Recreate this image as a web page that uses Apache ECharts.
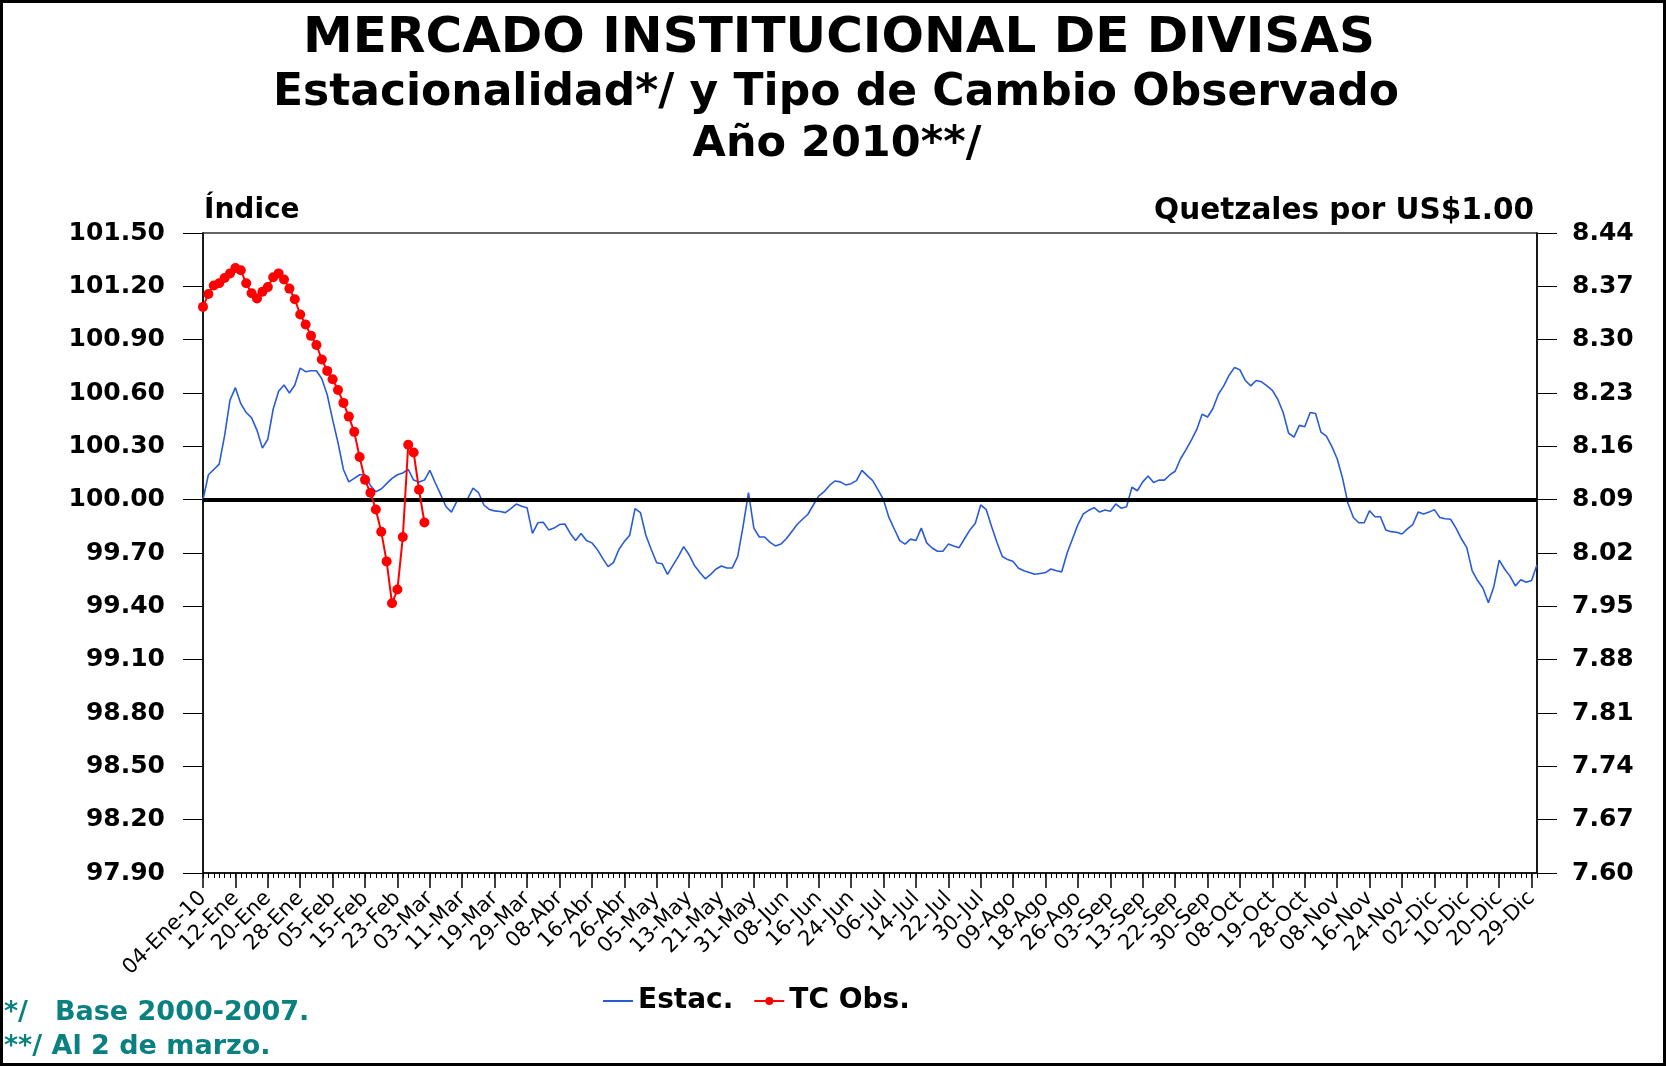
<!DOCTYPE html>
<html>
<head>
<meta charset="utf-8">
<script src="https://cdn.jsdelivr.net/npm/echarts@6/dist/echarts.min.js"></script>
<style>
html, body { margin: 0; padding: 0; background: #fff; }
#chart { width: 1666px; height: 1066px; }
</style>
</head>
<body>
<div id="chart"></div>
<script>
// días hábiles 2010 (se excluyen fines de semana y feriados)
const meses = ['Ene', 'Feb', 'Mar', 'Abr', 'May', 'Jun', 'Jul', 'Ago', 'Sep', 'Oct', 'Nov', 'Dic']
const feriados = ['04-01', '04-02', '04-30', '06-30', '07-01', '08-16', '09-15', '10-12', '10-20', '11-01', '12-24', '12-31']

const fechas = []
for (let d = new Date(Date.UTC(2010, 0, 4)); d.getUTCFullYear() === 2010; d.setUTCDate(d.getUTCDate() + 1)) {
  const dow = d.getUTCDay()
  if (dow === 0 || dow === 6) continue
  const mm = String(d.getUTCMonth() + 1).padStart(2, '0')
  const dd = String(d.getUTCDate()).padStart(2, '0')
  if (feriados.indexOf(mm + '-' + dd) >= 0) continue
  fechas.push(dd + '-' + meses[d.getUTCMonth()] + (fechas.length === 0 ? '-10' : ''))
}

// Estacionalidad (índice, eje izquierdo)
const estac = [
  100.00, 100.14, 100.17, 100.20, 100.36, 100.56, 100.63, 100.54, 100.49, 100.46, 100.39, 100.29,
  100.34, 100.51, 100.61, 100.645, 100.60, 100.645, 100.74, 100.72, 100.725, 100.725, 100.68, 100.59,
  100.45, 100.32, 100.17, 100.10, 100.12, 100.14, 100.14, 100.08, 100.045, 100.06, 100.09, 100.12,
  100.14, 100.15, 100.17, 100.11, 100.10, 100.11, 100.165, 100.095, 100.03, 99.96, 99.93, 99.99,
  100.00, 100.005, 100.065, 100.04, 99.97, 99.945, 99.937, 99.933, 99.927, 99.95, 99.975, 99.963,
  99.955, 99.81, 99.87, 99.873, 99.83, 99.84, 99.86, 99.863, 99.81, 99.77, 99.81, 99.77,
  99.757, 99.72, 99.67, 99.623, 99.646, 99.72, 99.764, 99.80, 99.95, 99.927, 99.80, 99.72,
  99.645, 99.64, 99.58, 99.63, 99.68, 99.736, 99.69, 99.63, 99.59, 99.555, 99.58, 99.61,
  99.627, 99.616, 99.616, 99.68, 99.85, 100.04, 99.84, 99.79, 99.79, 99.76, 99.74, 99.75,
  99.78, 99.82, 99.86, 99.89, 99.918, 99.97, 100.02, 100.045, 100.08, 100.105, 100.10, 100.083,
  100.09, 100.107, 100.165, 100.135, 100.107, 100.055, 100.00, 99.90, 99.835, 99.77, 99.75, 99.778,
  99.77, 99.84, 99.757, 99.728, 99.71, 99.71, 99.75, 99.74, 99.73, 99.78, 99.83, 99.867,
  99.97, 99.946, 99.85, 99.76, 99.68, 99.663, 99.652, 99.614, 99.60, 99.59, 99.58, 99.585,
  99.59, 99.61, 99.60, 99.594, 99.70, 99.78, 99.86, 99.92, 99.94, 99.955, 99.93, 99.942,
  99.935, 99.976, 99.952, 99.96, 100.07, 100.05, 100.10, 100.133, 100.096, 100.11, 100.11, 100.139,
  100.16, 100.23, 100.28, 100.335, 100.395, 100.48, 100.465, 100.513, 100.593, 100.64, 100.70, 100.744,
  100.73, 100.67, 100.64, 100.67, 100.663, 100.64, 100.615, 100.565, 100.49, 100.375, 100.352, 100.418,
  100.41, 100.49, 100.485, 100.38, 100.357, 100.30, 100.23, 100.12, 99.98, 99.90, 99.87, 99.87,
  99.938, 99.904, 99.904, 99.83, 99.82, 99.817, 99.807, 99.836, 99.86, 99.93, 99.92, 99.93,
  99.944, 99.90, 99.893, 99.89, 99.84, 99.78, 99.73, 99.60, 99.545, 99.502, 99.42, 99.51,
  99.66, 99.61, 99.57, 99.515, 99.55, 99.535, 99.545, 99.634
]

// Tipo de cambio observado (Q por US$, eje derecho), al 2 de marzo
const tcObs = [
  8.343, 8.360, 8.371, 8.374, 8.381, 8.387, 8.394, 8.391, 8.374, 8.361, 8.354, 8.363,
  8.369, 8.382, 8.387, 8.379, 8.367, 8.353, 8.333, 8.320, 8.305, 8.293, 8.274, 8.259,
  8.248, 8.234, 8.217, 8.199, 8.179, 8.146, 8.116, 8.099, 8.077, 8.048, 8.009, 7.954,
  7.972, 8.041, 8.162, 8.152, 8.103, 8.060
]

const FONT = 'DejaVu Sans'
const myChart = echarts.init(document.getElementById('chart'))

const txt = (text, x, y, size, align, color) => ({
  type: 'text',
  style: {
    text: text, x: x, y: y,
    font: 'bold ' + size + 'px "' + FONT + '"',
    fill: color || '#000',
    textAlign: align, align: align,
    textVerticalAlign: 'middle', verticalAlign: 'middle'
  }
})

const options = {
  animation: false,
  backgroundColor: '#fff',
  textStyle: { fontFamily: FONT },
  grid: {
    left: 203, top: 233, width: 1334, height: 640,
    show: true, borderColor: '#333', borderWidth: 1.5
  },
  legend: {
    left: 598, top: 982,
    itemWidth: 30, itemHeight: 10, itemGap: 20,
    textStyle: { fontSize: 28, fontWeight: 'bold', color: '#000', fontFamily: FONT },
    data: [
      { name: 'Estac.', icon: 'path://M0,0 L30,0 L30,2 L0,2 Z' },
      { name: 'TC Obs.' }
    ]
  },
  xAxis: [
    {
      type: 'category', data: fechas, boundaryGap: false,
      axisLine: { lineStyle: { color: '#000', width: 1.5 } },
      axisTick: { interval: 0, length: 5, lineStyle: { color: '#000', width: 1 } },
      axisLabel: { show: false },
      splitLine: { show: false }
    },
    {
      type: 'category', data: fechas, boundaryGap: false, position: 'bottom',
      axisLine: { show: false },
      axisTick: { interval: 5, length: 15, lineStyle: { color: '#000', width: 1.5 } },
      axisLabel: { interval: 5, rotate: 45, margin: 22, fontSize: 21, color: '#000', fontFamily: FONT },
      splitLine: { show: false }
    }
  ],
  yAxis: [
    {
      type: 'value', min: 97.9, max: 101.5, interval: 0.3,
      axisLine: { show: true, lineStyle: { color: '#000', width: 1.5 } },
      axisTick: { show: true, length: 20, lineStyle: { color: '#000', width: 1 } },
      axisLabel: {
        formatter: v => v.toFixed(2), fontSize: 25, fontWeight: 'bold',
        color: '#000', margin: 38, fontFamily: FONT
      },
      splitLine: { show: false }
    },
    {
      type: 'value', min: 7.6, max: 8.44, interval: 0.07, position: 'right',
      axisLine: { show: true, lineStyle: { color: '#000', width: 1.5 } },
      axisTick: { show: true, length: 20, lineStyle: { color: '#000', width: 1 } },
      axisLabel: {
        formatter: v => v.toFixed(2), fontSize: 25, fontWeight: 'bold',
        color: '#000', margin: 35, fontFamily: FONT
      },
      splitLine: { show: false }
    }
  ],
  series: [
    {
      name: 'Estac.',
      type: 'line',
      data: estac,
      xAxisIndex: 0,
      yAxisIndex: 0,
      symbol: 'none',
      lineStyle: { color: '#2a5bd7', width: 1.6 },
      itemStyle: { color: '#2a5bd7' },
      markLine: {
        silent: true,
        symbol: 'none',
        label: { show: false },
        lineStyle: { color: '#000', width: 4, type: 'solid' },
        data: [{ yAxis: 100 }]
      }
    },
    {
      name: 'TC Obs.',
      type: 'line',
      data: tcObs,
      xAxisIndex: 0,
      yAxisIndex: 1,
      symbol: 'circle',
      symbolSize: 10,
      showSymbol: true,
      showAllSymbol: true,
      lineStyle: { color: '#ff0000', width: 2 },
      itemStyle: { color: '#ff0000' },
      z: 5
    }
  ],
  graphic: [
    {
      type: 'rect',
      shape: { x: 1.5, y: 1.5, width: 1663, height: 1063 },
      style: { fill: null, stroke: '#000', lineWidth: 3 },
      silent: true
    },
    txt('MERCADO INSTITUCIONAL DE DIVISAS', 839, 39, 50, 'center'),
    txt('Estacionalidad*/ y Tipo de Cambio Observado', 836, 94, 44, 'center'),
    txt('Año 2010**/', 837, 145, 43, 'center'),
    txt('Índice', 204, 211, 28, 'left'),
    txt('Quetzales por US$1.00', 1534, 211, 29.5, 'right'),
    txt('*/', 4, 1013, 27, 'left', '#0a8080'),
    txt('Base 2000-2007.', 55, 1013, 27, 'left', '#0a8080'),
    txt('**/ Al 2 de marzo.', 4, 1047, 27, 'left', '#0a8080')
  ]
}

myChart.setOption(options)
</script>
</body>
</html>
